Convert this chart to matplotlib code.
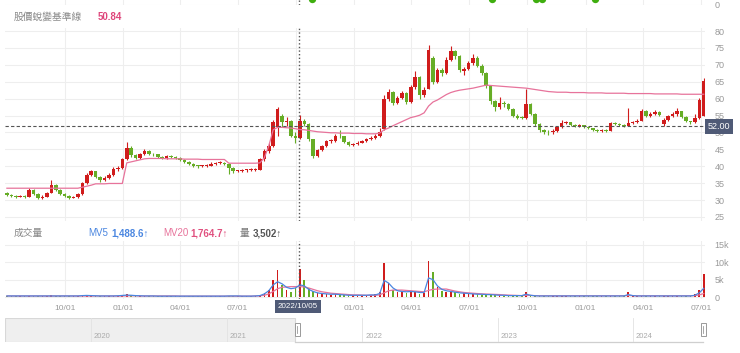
import matplotlib
matplotlib.use("Agg")
import matplotlib.pyplot as plt
import matplotlib.dates as mdates
from matplotlib.patches import Rectangle
import numpy as np
import pandas as pd

plt.rcParams['font.family'] = ['Liberation Sans', 'Noto Sans CJK TC', 'DejaVu Sans']

# weekly candles from 2021-07-02, 13 weeks per row
opens = [
    32.0, 31.6, 31.2, 31.0, 31.3, 31.0, 33.0, 31.9, 30.5, 31.0, 32.2, 34.5, 33.0,
    31.8, 31.2, 30.7, 30.9, 31.8, 35.0, 37.5, 38.5, 36.8, 35.8, 36.5, 37.5, 39.2,
    39.5, 42.0, 45.5, 43.2, 42.5, 43.5, 44.5, 43.6, 43.5, 42.8, 42.4, 42.9, 42.7,
    42.4, 41.9, 41.4, 40.8, 40.2, 40.0, 40.1, 40.2, 40.8, 41.0, 41.1, 40.8, 39.5,
    38.5, 38.6, 38.8, 38.8, 39.0, 39.0, 42.0, 44.5, 46.0, 51.5, 55.0, 53.0, 53.4,
    49.0, 48.5, 53.5, 52.5, 48.0, 43.0, 44.8, 46.0, 47.5, 47.6, 49.0, 48.8, 47.3,
    46.3, 46.6, 47.0, 47.4, 48.0, 48.5, 49.0, 51.0, 60.0, 62.0, 58.8, 60.2, 61.8,
    59.0, 63.5, 66.5, 61.0, 63.0, 72.0, 65.0, 68.4, 67.5, 71.5, 74.0, 72.5, 68.2,
    68.9, 70.5, 72.0, 69.8, 67.5, 63.8, 59.2, 57.5, 58.6, 58.3, 57.0, 55.0, 54.6,
    54.3, 58.3, 55.6, 52.5, 50.6, 50.2, 50.0, 50.5, 51.6, 52.8, 53.0, 52.2, 51.9,
    52.1, 51.6, 51.2, 50.6, 50.5, 50.7, 50.5, 52.7, 52.5, 52.2, 52.0, 52.8, 53.0,
    53.5, 56.3, 55.0, 55.5, 56.0, 52.5, 53.8, 54.8, 55.4, 56.2, 54.6, 53.3, 53.0,
    54.3, 55.0]
closes = [
    31.6, 31.2, 31.0, 31.2, 31.0, 33.0, 31.9, 30.5, 31.0, 32.0, 34.5, 33.0, 31.8,
    31.2, 30.7, 30.9, 31.8, 35.0, 37.5, 38.5, 36.8, 35.8, 36.5, 37.5, 39.2, 39.5,
    42.0, 45.5, 43.2, 42.5, 43.5, 44.5, 43.6, 43.5, 42.8, 42.4, 42.9, 42.7, 42.4,
    41.9, 41.4, 40.8, 40.2, 40.0, 40.1, 40.2, 40.8, 41.0, 41.1, 40.8, 39.5, 38.5,
    38.6, 38.8, 38.8, 39.0, 39.0, 42.0, 44.5, 46.0, 53.0, 56.8, 53.0, 53.4, 49.0,
    48.5, 53.5, 52.5, 48.0, 43.0, 44.8, 46.0, 47.5, 47.6, 49.0, 48.8, 47.3, 46.3,
    46.6, 47.0, 47.4, 48.0, 48.5, 49.0, 50.0, 60.0, 62.0, 58.8, 60.2, 61.8, 59.0,
    63.5, 66.5, 61.0, 62.5, 74.5, 65.0, 68.4, 67.5, 71.5, 74.0, 72.5, 68.5, 68.9,
    70.5, 72.0, 69.8, 67.5, 63.8, 59.2, 57.5, 58.6, 58.3, 57.0, 55.0, 54.4, 54.3,
    58.3, 55.6, 52.5, 50.6, 50.2, 50.0, 50.5, 51.6, 52.8, 53.0, 52.2, 52.0, 52.1,
    51.6, 51.2, 50.6, 50.5, 50.7, 50.5, 52.7, 52.5, 52.2, 52.0, 52.8, 53.0, 53.5,
    56.3, 55.0, 55.5, 56.0, 55.2, 53.8, 54.8, 55.4, 56.2, 54.6, 53.3, 53.0, 54.3,
    59.5, 65.3]
highs = [
    32.4, 31.9, 31.6, 31.6, 31.5, 33.6, 33.2, 32.0, 31.4, 32.4, 36.0, 34.8, 33.2,
    32.0, 31.4, 31.2, 32.1, 35.4, 38.0, 39.0, 38.7, 37.0, 37.0, 37.9, 39.8, 40.2,
    42.4, 47.2, 46.0, 43.6, 44.0, 45.2, 44.8, 44.0, 43.7, 43.0, 43.3, 43.2, 43.0,
    42.6, 42.1, 41.6, 41.0, 40.5, 40.5, 40.6, 41.2, 41.4, 41.6, 41.3, 40.9, 39.7,
    39.0, 39.2, 39.2, 39.4, 39.5, 42.5, 45.0, 46.8, 53.6, 57.4, 55.5, 54.5, 53.6,
    50.0, 55.2, 54.0, 52.8, 48.2, 45.2, 46.4, 47.9, 48.1, 49.5, 50.6, 49.0, 47.5,
    47.0, 47.4, 47.8, 48.4, 48.9, 49.4, 51.4, 61.0, 63.0, 62.3, 60.8, 62.4, 62.0,
    64.0, 68.2, 66.8, 63.4, 75.8, 72.5, 69.0, 69.0, 72.3, 75.6, 74.4, 72.8, 69.5,
    71.0, 73.2, 72.5, 70.2, 67.8, 64.0, 59.6, 60.6, 59.2, 58.8, 57.2, 55.4, 55.0,
    62.8, 58.6, 55.8, 52.8, 51.0, 50.8, 51.0, 52.0, 53.6, 53.5, 53.2, 52.5, 52.5,
    52.3, 51.8, 51.4, 50.9, 51.0, 51.0, 53.2, 53.0, 52.8, 52.5, 57.1, 53.4, 54.0,
    56.8, 56.5, 56.0, 56.6, 56.2, 54.2, 55.3, 56.0, 57.2, 56.4, 54.8, 53.5, 55.6,
    60.3, 66.0]
lows = [
    31.2, 30.9, 30.7, 30.8, 30.7, 30.9, 31.6, 30.2, 30.3, 30.8, 32.0, 32.7, 31.5,
    30.9, 30.4, 30.5, 30.7, 31.6, 34.6, 37.0, 36.5, 35.4, 35.5, 36.2, 37.2, 38.6,
    39.2, 41.8, 42.8, 42.0, 42.2, 43.2, 43.2, 43.0, 42.4, 42.0, 42.1, 42.3, 42.1,
    41.5, 41.0, 40.4, 39.8, 39.6, 39.7, 39.8, 40.0, 40.5, 40.7, 40.3, 37.6, 38.1,
    38.2, 38.3, 38.4, 38.5, 38.6, 38.8, 41.6, 44.0, 45.8, 49.0, 51.5, 52.0, 48.6,
    46.8, 48.2, 51.8, 47.6, 42.4, 42.6, 44.4, 45.6, 47.0, 47.3, 48.4, 47.0, 46.0,
    46.0, 46.3, 46.8, 47.1, 47.7, 48.2, 48.7, 50.8, 59.2, 58.0, 58.3, 59.8, 58.4,
    58.8, 63.0, 60.0, 60.6, 62.8, 64.2, 64.6, 66.8, 67.2, 71.0, 71.8, 68.0, 67.0,
    68.5, 70.0, 69.3, 67.0, 63.2, 58.5, 56.2, 57.0, 57.5, 56.5, 54.5, 54.0, 53.9,
    54.0, 55.2, 52.0, 50.0, 49.4, 49.3, 49.6, 50.2, 51.3, 52.4, 51.8, 51.7, 51.6,
    51.3, 50.9, 50.3, 50.2, 50.2, 50.2, 50.4, 52.2, 51.9, 51.6, 51.8, 52.5, 52.7,
    53.3, 54.6, 54.7, 55.2, 54.8, 52.0, 53.5, 54.5, 55.0, 54.2, 53.0, 52.6, 52.8,
    54.0, 54.8]
# 股價蛻變基準線 (pink line)
baseline = [
    33.5, 33.5, 33.5, 33.5, 33.5, 33.5, 33.5, 33.5, 33.5, 33.5, 33.5, 33.5, 33.5,
    33.5, 33.5, 33.5, 33.5, 33.8, 34.1, 34.4, 34.8, 34.8, 34.8, 34.9, 34.9, 34.9,
    34.9, 41.0, 41.3, 41.6, 41.9, 42.2, 42.3, 42.3, 42.3, 42.3, 42.2, 42.2, 42.2,
    42.2, 42.1, 42.1, 42.1, 42.1, 42.0, 42.0, 42.0, 42.0, 42.0, 42.0, 40.9, 40.9,
    40.9, 40.9, 40.9, 40.9, 40.9, 41.0, 42.5, 46.0, 50.8, 51.5, 51.5, 51.4, 51.3,
    51.1, 50.84, 50.8, 50.6, 50.4, 50.2, 50.1, 50.0, 49.9, 49.9, 49.8, 49.8, 49.8,
    49.7, 49.7, 49.7, 49.6, 49.6, 49.6, 49.8, 50.8, 51.3, 52.0, 52.6, 53.2, 53.8,
    54.4, 54.7, 55.1, 55.8, 57.8, 59.0, 59.6, 60.4, 61.2, 61.8, 62.2, 62.5, 62.7,
    62.9, 63.1, 63.4, 63.7, 64.0, 63.9, 63.8, 63.7, 63.6, 63.5, 63.4, 63.3, 63.2,
    63.1, 62.9, 62.7, 62.5, 62.3, 62.1, 62.0, 61.9, 61.9, 61.9, 61.8, 61.8, 61.8,
    61.8, 61.7, 61.7, 61.7, 61.7, 61.6, 61.6, 61.6, 61.6, 61.6, 61.5, 61.5, 61.5,
    61.5, 61.5, 61.5, 61.4, 61.4, 61.4, 61.4, 61.4, 61.4, 61.3, 61.3, 61.3, 61.3,
    61.3, 61.3]
# volume in thousands of lots
volume = [
    0.3, 0.25, 0.2, 0.3, 0.25, 0.4, 0.3, 0.2, 0.25, 0.3, 0.5, 0.35, 0.25,
    0.2, 0.2, 0.25, 0.3, 0.5, 0.6, 0.45, 0.3, 0.25, 0.3, 0.35, 0.4, 0.35,
    0.5, 0.8, 0.5, 0.35, 0.3, 0.35, 0.3, 0.25, 0.25, 0.2, 0.25, 0.2, 0.2,
    0.2, 0.2, 0.25, 0.2, 0.2, 0.2, 0.25, 0.2, 0.2, 0.25, 0.2, 0.4, 0.3,
    0.25, 0.2, 0.2, 0.25, 0.3, 0.6, 1.2, 2.0, 5.0, 7.9, 3.5, 2.0, 1.5,
    2.5, 8.0, 5.0, 2.5, 1.8, 1.2, 1.0, 0.8, 0.7, 0.9, 0.8, 0.6, 0.5,
    0.5, 0.4, 0.4, 0.5, 0.6, 0.8, 1.5, 9.8, 4.0, 2.0, 1.5, 1.8, 1.2,
    1.8, 1.5, 1.0, 1.2, 10.5, 7.2, 3.0, 1.8, 1.5, 1.8, 1.4, 1.0, 1.2,
    0.9, 0.8, 0.8, 0.7, 0.8, 0.7, 0.6, 0.5, 0.4, 0.4, 0.4, 0.35, 0.4,
    1.4, 0.6, 0.35, 0.3, 0.3, 0.3, 0.25, 0.3, 0.35, 0.3, 0.25, 0.3, 0.3,
    0.25, 0.3, 0.3, 0.25, 0.25, 0.3, 0.35, 0.3, 0.3, 0.3, 1.5, 0.4, 0.3,
    0.4, 0.3, 0.35, 0.3, 0.3, 0.35, 0.3, 0.3, 0.35, 0.3, 0.3, 0.3, 0.8,
    2.0, 6.5]
mv5 = [
    0.3, 0.3, 0.3, 0.3, 0.3, 0.3, 0.3, 0.3, 0.3, 0.3, 0.3, 0.3, 0.3,
    0.3, 0.3, 0.3, 0.3, 0.4, 0.45, 0.4, 0.35, 0.3, 0.3, 0.3, 0.3, 0.35,
    0.45, 0.55, 0.5, 0.4, 0.35, 0.3, 0.3, 0.3, 0.25, 0.25, 0.25, 0.25, 0.25,
    0.25, 0.25, 0.25, 0.25, 0.25, 0.25, 0.25, 0.25, 0.25, 0.25, 0.25, 0.3, 0.3,
    0.3, 0.25, 0.25, 0.25, 0.3, 0.4, 0.9, 1.8, 3.5, 4.4, 3.8, 2.8, 2.4,
    2.6, 3.5, 3.2, 2.2, 1.6, 1.2, 1.0, 0.9, 0.8, 0.8, 0.7, 0.6, 0.5,
    0.5, 0.5, 0.5, 0.5, 0.6, 0.6, 1.0, 4.8, 4.0, 2.6, 1.8, 1.6, 1.5,
    1.6, 1.5, 1.3, 1.3, 5.5, 5.0, 3.2, 2.2, 1.8, 1.6, 1.4, 1.2, 1.1,
    1.0, 0.9, 0.8, 0.8, 0.7, 0.7, 0.6, 0.5, 0.5, 0.4, 0.4, 0.4, 0.4,
    0.8, 0.5, 0.35, 0.3, 0.3, 0.3, 0.3, 0.3, 0.3, 0.3, 0.3, 0.3, 0.3,
    0.3, 0.3, 0.3, 0.3, 0.3, 0.3, 0.3, 0.3, 0.3, 0.3, 0.7, 0.4, 0.3,
    0.3, 0.3, 0.3, 0.3, 0.3, 0.3, 0.3, 0.3, 0.3, 0.3, 0.3, 0.3, 0.5,
    1.2, 2.5]
mv20 = [
    0.3, 0.3, 0.3, 0.3, 0.3, 0.3, 0.3, 0.3, 0.3, 0.3, 0.3, 0.3, 0.3,
    0.3, 0.3, 0.3, 0.3, 0.3, 0.3, 0.3, 0.3, 0.3, 0.3, 0.3, 0.3, 0.3,
    0.3, 0.35, 0.35, 0.35, 0.3, 0.3, 0.3, 0.3, 0.3, 0.3, 0.3, 0.3, 0.3,
    0.25, 0.25, 0.25, 0.25, 0.25, 0.25, 0.25, 0.25, 0.25, 0.25, 0.25, 0.25, 0.25,
    0.25, 0.25, 0.25, 0.25, 0.3, 0.35, 0.5, 0.9, 1.6, 2.4, 2.8, 2.9, 3.0,
    3.0, 3.0, 2.9, 2.6, 2.2, 1.8, 1.5, 1.3, 1.1, 1.0, 0.9, 0.8, 0.7,
    0.6, 0.6, 0.55, 0.5, 0.5, 0.5, 0.6, 1.2, 1.8, 2.0, 2.0, 2.0, 1.9,
    1.8, 1.7, 1.6, 1.5, 1.9, 2.2, 2.3, 2.3, 2.3, 2.0, 1.7, 1.5, 1.3,
    1.2, 1.1, 1.0, 0.9, 0.85, 0.8, 0.75, 0.7, 0.6, 0.55, 0.5, 0.45, 0.4,
    0.5, 0.45, 0.4, 0.35, 0.35, 0.35, 0.35, 0.35, 0.35, 0.35, 0.35, 0.35, 0.35,
    0.35, 0.35, 0.35, 0.35, 0.35, 0.35, 0.35, 0.35, 0.35, 0.35, 0.45, 0.4, 0.35,
    0.35, 0.35, 0.35, 0.35, 0.35, 0.35, 0.35, 0.35, 0.35, 0.35, 0.35, 0.35, 0.4,
    0.6, 1.0]
signal_dates = ['2022-10-26', '2023-08-06', '2023-10-14', '2023-10-24', '2024-01-16']
years = [2020, 2021, 2022, 2023, 2024]

cross_date = '2022-10-05'
cross_price = 52.00
baseline_now = 50.84
mv5_now, mv20_now, vol_now = 1488.6, 1764.7, 3502

W, H = 740, 353
RED, GREEN = '#d01c1c', '#66ad26'
PINK, BLUE = '#e7739b', '#4a86e0'
GRID = '#eeeeee'
TXT = '#9a9a9a'
CROSS = '#4f5a76'


def px_box(l, t, r, b):
    return [l / W, 1 - b / H, (r - l) / W, (b - t) / H]


def fx(x):
    return x / W


def fy(y):
    return 1 - y / H


def dn(s):
    return mdates.date2num(pd.Timestamp(s))


dates = pd.date_range('2021-07-02', periods=len(closes), freq='7D')
xs = mdates.date2num(dates)
o, h, l, c = map(np.array, (opens, highs, lows, closes))
colors = np.where(c >= o, RED, GREEN)

x0, x1 = dn('2021-06-29'), dn('2024-07-07')
quarters = pd.date_range('2021-10-01', '2024-07-01', freq='QS')
qx = mdates.date2num(quarters)
cx = dn(cross_date)

fig = plt.figure(figsize=(W / 100, H / 100), dpi=100)


def style(ax):
    for s in ax.spines.values():
        s.set_visible(False)
    ax.set_xlim(x0, x1)
    ax.yaxis.tick_right()
    ax.tick_params(axis='y', length=0, pad=7, labelsize=6.5, labelcolor=TXT)
    ax.tick_params(axis='x', length=0)
    ax.set_xticks(qx)
    ax.set_xticklabels([])
    ax.grid(True, color=GRID, lw=0.8)
    ax.set_axisbelow(True)
    ax.axvline(cx, color='#555555', lw=1.0, ls=(0, (1, 1.6)), zorder=5)


# clipped strip of the panel above
ax_t = fig.add_axes(px_box(5, -12, 705, 4.5))
style(ax_t)
ax_t.set_ylim(0, 16.5)
ax_t.set_yticks([0])
ax_t.scatter(mdates.date2num(pd.to_datetime(signal_dates)), [5.5] * len(signal_dates),
             s=28, color='#3fae0f', zorder=3, lw=0)

# price panel
ax = fig.add_axes(px_box(5, 28, 705, 221))
style(ax)
ax.set_ylim(23.8, 80.9)
ax.set_yticks(range(25, 81, 5))
ax.vlines(xs, l, h, colors=colors, lw=0.8, zorder=2)
ax.bar(xs, np.maximum(np.abs(c - o), 0.25), bottom=np.minimum(o, c), width=5.6,
       color=colors, lw=0, zorder=3)
ax.plot(xs, baseline, color=PINK, lw=0.9, zorder=4)
ax.axhline(cross_price, color='#555555', lw=0.8, ls=(0, (3, 2)), zorder=5)

fig.text(fx(14), fy(17), '股價蛻變基準線', fontsize=7, color='#888888', va='center')
fig.text(fx(98), fy(17), f'{baseline_now:.2f}', fontsize=7, color='#de457a',
         va='center', weight='bold')

# volume panel
ax_v = fig.add_axes(px_box(5, 241, 705, 298.5))
style(ax_v)
ax_v.set_ylim(-0.43, 16.15)
ax_v.set_yticks([0, 5, 10, 15])
ax_v.set_yticklabels(['0', '5k', '10k', '15k'])
ax_v.bar(xs, volume, width=2.6, color=colors, lw=0, zorder=2)
ax_v.plot(xs, mv20, color=PINK, lw=0.9, zorder=3)
ax_v.plot(xs, mv5, color=BLUE, lw=0.9, zorder=4)
ax_v.set_xticklabels(['' if q == pd.Timestamp('2022-10-01') else q.strftime('%m/%d')
                      for q in quarters])
ax_v.tick_params(axis='x', labelsize=6, labelcolor=TXT, pad=5)

fig.text(fx(14), fy(233), '成交量', fontsize=7, color='#888888', va='center')
fig.text(fx(88), fy(233), 'MV5', fontsize=7, color=BLUE, va='center')
fig.text(fx(111), fy(233), f'{mv5_now:,.1f}↑', fontsize=7, color=BLUE, va='center', weight='bold')
fig.text(fx(163), fy(233), 'MV20', fontsize=7, color=PINK, va='center')
fig.text(fx(190), fy(233), f'{mv20_now:,.1f}↑', fontsize=7, color='#e0507f', va='center', weight='bold')
fig.text(fx(240), fy(233), '量', fontsize=7, color='#777777', va='center')
fig.text(fx(253), fy(233), f'{vol_now:,}↑', fontsize=7, color='#555555', va='center', weight='bold')

# crosshair labels
fig.text(fx(298), fy(306.5), pd.Timestamp(cross_date).strftime('%Y/%m/%d'), ha='center',
         va='center', fontsize=5.8, color='white',
         bbox=dict(boxstyle='square,pad=0.35', fc=CROSS, ec='none'))
fig.text(fx(719), fy(126.5), f'{cross_price:.2f}', ha='center', va='center', fontsize=6.5,
         color='white', bbox=dict(boxstyle='square,pad=0.3', fc=CROSS, ec='none'))

# navigator
n0, n1 = dn('2019-05-14'), dn('2024-07-08')
sel0 = dn('2021-07-04')
ax_n = fig.add_axes(px_box(5, 318, 703, 342))
ax_n.set_xlim(n0, n1)
ax_n.set_ylim(0, 1)
ax_n.axis('off')
ax_n.add_patch(Rectangle((n0, 0), sel0 - n0, 1, facecolor='#efefef', edgecolor='#d8d8d8', lw=0.8))
ax_n.plot([sel0, n1], [0, 0], color='#cfcfcf', lw=0.9, clip_on=False)
for yr in years:
    yx = dn(f'{yr}-01-01')
    ax_n.plot([yx, yx], [0, 1], color='#e2e2e2', lw=0.6)
    ax_n.text(yx + 8, 0.25, str(yr), fontsize=5.5, color='#aaaaaa', va='center')

for hx in (297, 703):
    fig.add_artist(Rectangle((fx(hx - 2.5), fy(336)), 5 / W, 13 / H, transform=fig.transFigure,
                             facecolor='white', edgecolor='#999999', lw=0.7))
    fig.add_artist(plt.Line2D([fx(hx), fx(hx)], [fy(333), fy(326)], transform=fig.transFigure,
                              color='#999999', lw=0.6))

fig.savefig('out.png', dpi=100, facecolor='white')
